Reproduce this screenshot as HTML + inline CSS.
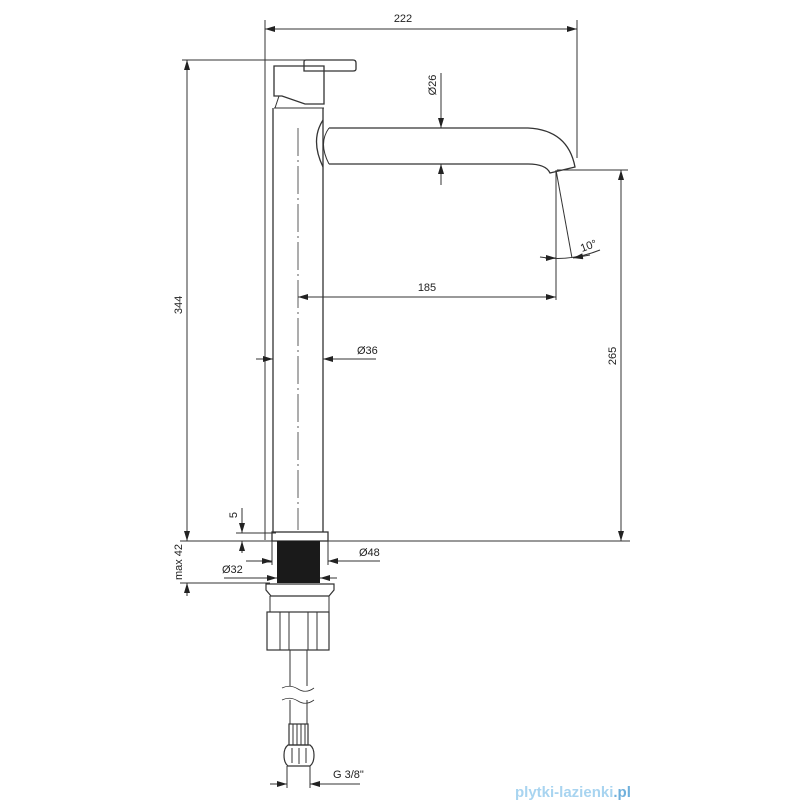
<!DOCTYPE html>
<html><head><meta charset="utf-8"><style>
html,body{margin:0;padding:0;background:#fff;width:800px;height:800px;overflow:hidden}
svg{display:block}
text{font-family:"Liberation Sans",sans-serif;font-size:11px;fill:#222}
</style></head><body>
<svg width="800" height="800" viewBox="0 0 800 800" xmlns="http://www.w3.org/2000/svg">
<defs>
<marker id="a" viewBox="0 0 10 6" refX="10" refY="3" markerWidth="10" markerHeight="6" orient="auto-start-reverse" markerUnits="userSpaceOnUse"><path d="M0,0L10,3L0,6z" fill="#222"/></marker>
</defs>
<g stroke="#333" stroke-width="1" fill="none">
<!-- 222 dim -->
<line x1="265" y1="20" x2="265" y2="540"/>
<line x1="577" y1="20" x2="577" y2="158"/>
<line x1="265" y1="29" x2="577" y2="29" marker-start="url(#a)" marker-end="url(#a)"/>
<!-- 344 -->
<line x1="182" y1="60" x2="305" y2="60"/>
<line x1="187" y1="60" x2="187" y2="541" marker-start="url(#a)" marker-end="url(#a)"/>
<!-- head & lever -->
<path d="M304,71 L304,62 Q304,60 306,60 L353,60 Q356,60 356,63 L356,69 Q356,71 353,71 Z" stroke-width="1.3"/>
<path d="M274,66 L324,66 L324,104 L305,104 L282,96 L274,96 Z" stroke-width="1.3"/>
<path d="M279,96 L275,108 M274,108 L324,108"/>
<!-- body -->
<line x1="273" y1="108" x2="273" y2="532" stroke-width="1.3"/>
<line x1="323" y1="108" x2="323" y2="532" stroke-width="1.3"/>
<line x1="298" y1="128" x2="298" y2="530" stroke-dasharray="28,4,2,4" stroke-width="0.8"/>
<!-- spout -->
<path d="M323,120 Q310,140 323,167" stroke-width="1.3"/>
<path d="M329,128 Q318,143 329,164"/>
<path d="M329,128 L528,128 Q568,130 575,167 L550,173 Q546,164 528,164 L329,164" stroke-width="1.3"/>
<!-- Ø26 -->
<line x1="441" y1="73" x2="441" y2="128" marker-end="url(#a)"/>
<line x1="441" y1="185" x2="441" y2="164" marker-end="url(#a)"/>
<!-- 265 -->
<line x1="557" y1="170" x2="628" y2="170"/>
<line x1="621" y1="170" x2="621" y2="541" marker-start="url(#a)" marker-end="url(#a)"/>
<!-- 10 deg -->
<line x1="556" y1="170" x2="556" y2="300"/>
<line x1="556" y1="170" x2="572" y2="258"/>
<path d="M540,257 Q570,262 600,250" marker-start="none"/>
<line x1="545" y1="258" x2="556" y2="258" marker-end="url(#a)"/>
<line x1="590" y1="255" x2="573" y2="258" marker-end="url(#a)"/>
<!-- 185 -->
<line x1="298" y1="297" x2="556" y2="297" marker-start="url(#a)" marker-end="url(#a)"/>
<!-- Ø36 -->
<line x1="256" y1="359" x2="273" y2="359" marker-end="url(#a)"/>
<line x1="376" y1="359" x2="323" y2="359" marker-end="url(#a)"/>
<!-- base -->
<rect x="272" y="532" width="56" height="9" stroke-width="1.3"/>
<line x1="180" y1="541" x2="630" y2="541"/>
<line x1="180" y1="583" x2="270" y2="583"/>
<line x1="187" y1="596" x2="187" y2="583" marker-end="url(#a)"/>
<line x1="236" y1="533" x2="276" y2="533"/>
<line x1="242" y1="508" x2="242" y2="533" marker-end="url(#a)"/>
<line x1="242" y1="553" x2="242" y2="541" marker-end="url(#a)"/>
<line x1="265" y1="562" x2="272" y2="562"/>
<line x1="246" y1="561" x2="272" y2="561" marker-end="url(#a)"/>
<line x1="380" y1="561" x2="328" y2="561" marker-end="url(#a)"/>
<line x1="328" y1="541" x2="328" y2="565"/>
<line x1="272" y1="541" x2="272" y2="565"/>
<line x1="224" y1="578" x2="277" y2="578" marker-end="url(#a)"/>
<line x1="337" y1="578" x2="320" y2="578" marker-end="url(#a)"/>
<path d="M266,584 L334,584 L334,590 L329,596 L271,596 L266,590 Z" stroke-width="1.2"/>
<path d="M270,596 L270,612 M329,596 L329,612"/>
<rect x="267" y="612" width="62" height="38" stroke-width="1.2"/>
<path d="M280,612V650M289,612V650M308,612V650M317,612V650"/>
<path d="M290,650V686M307,650V686M290,700V724M307,700V724"/>
<path d="M282,688 Q290,684 298,689 T314,688 M282,700 Q290,696 298,701 T314,700" stroke-width="0.8"/>
<rect x="289" y="724" width="19" height="21" stroke-width="1.2"/>
<path d="M293,724V745M297,724V745M301,724V745M305,724V745"/>
<path d="M288,745 L310,745 Q314,748 314,755 Q314,763 310,766 L288,766 Q284,763 284,755 Q284,748 288,745 Z" stroke-width="1.2"/>
<path d="M292,748V763M306,748V763M299,748V764"/>
<line x1="287" y1="766" x2="287" y2="788"/>
<line x1="310" y1="766" x2="310" y2="788"/>
<line x1="270" y1="784" x2="287" y2="784" marker-end="url(#a)"/>
<line x1="360" y1="784" x2="310" y2="784" marker-end="url(#a)"/>
</g>
<rect x="277" y="541" width="43" height="42" fill="#1a1a1a"/>
<text x="403" y="22" text-anchor="middle">222</text>
<text x="427" y="291" text-anchor="middle">185</text>
<text x="357" y="354">Ø36</text>
<text x="359" y="556">Ø48</text>
<text x="222" y="573">Ø32</text>
<text x="333" y="778">G 3/8"</text>
<text transform="translate(182,305) rotate(-90)" text-anchor="middle">344</text>
<text transform="translate(436,85) rotate(-90)" text-anchor="middle">Ø26</text>
<text transform="translate(616,356) rotate(-90)" text-anchor="middle">265</text>
<text transform="translate(182,562) rotate(-90)" text-anchor="middle">max 42</text>
<text transform="translate(237,515) rotate(-90)" text-anchor="middle">5</text>
<text transform="translate(582,252) rotate(-20)">10°</text>
<text x="515" y="797" style="font-size:15px;font-weight:bold;fill:#a8d4f0">plytki-lazienki<tspan style="fill:#6fb0dc">.pl</tspan></text>
</svg>
</body></html>
